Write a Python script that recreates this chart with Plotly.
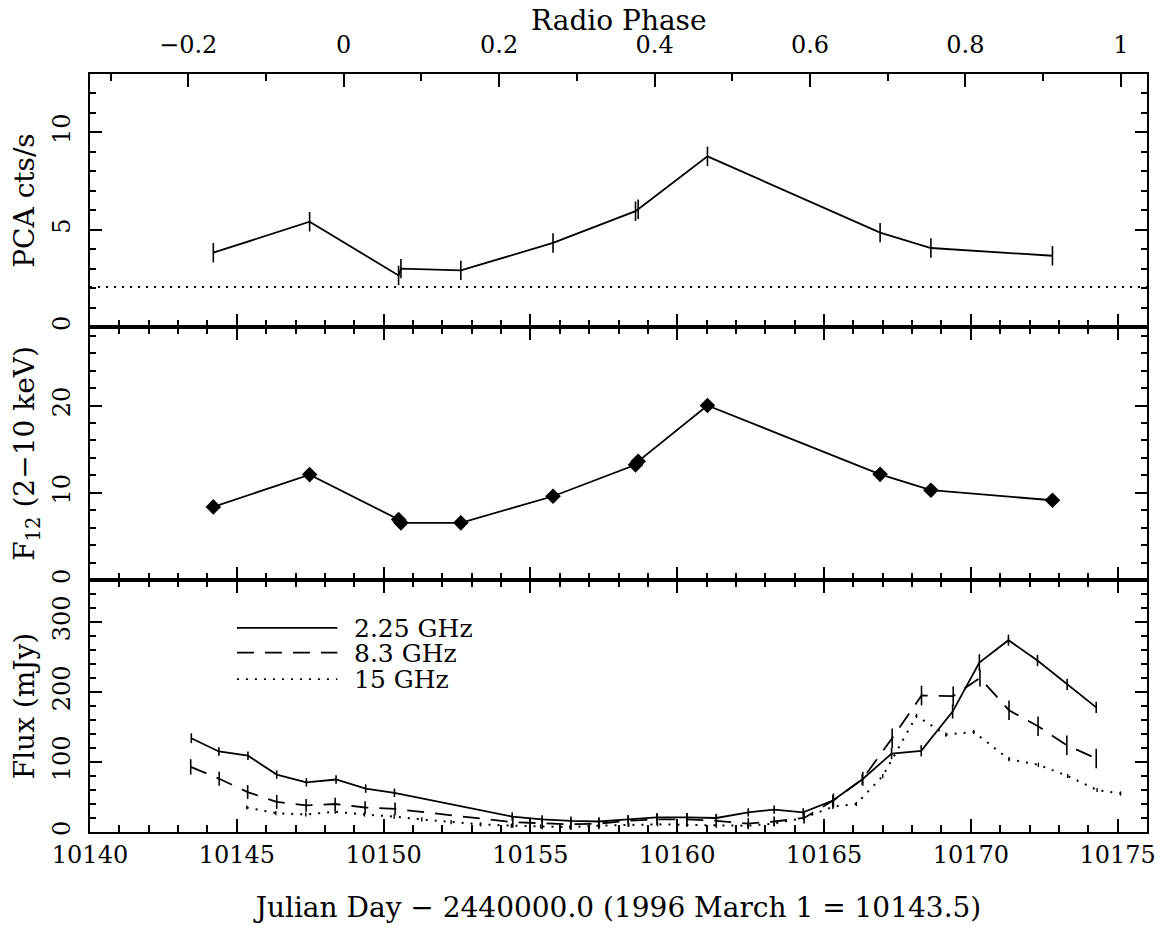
import plotly.graph_objects as go

# ---------------- data ----------------
# X-ray (PCA) observations
days_xray = [10144.20, 10147.48, 10150.51, 10150.59, 10152.63, 10155.77,
             10158.58, 10158.67, 10161.03, 10166.91, 10168.64, 10172.78]
pca_rate = [3.82, 5.41, 2.65, 3.00, 2.91, 4.32, 5.95, 6.05, 8.77, 4.85, 4.06, 3.66]
pca_err = [0.5, 0.5, 0.5, 0.5, 0.5, 0.5, 0.5, 0.5, 0.5, 0.5, 0.5, 0.5]
pca_background = 2.05
f12_flux = [8.38, 12.08, 6.93, 6.55, 6.55, 9.6, 13.2, 13.6, 20.0, 12.11, 10.29, 9.14]

# Radio 2.25 GHz
days_225 = [10143.45, 10144.39, 10145.38, 10146.36, 10147.37, 10148.38, 10149.39, 10150.37,
            10154.38, 10155.40, 10156.38, 10157.33, 10158.33, 10159.31, 10160.33, 10161.33,
            10162.42, 10163.30, 10164.29, 10165.30, 10166.30, 10167.30, 10168.31, 10169.38,
            10170.29, 10171.28, 10172.27, 10173.28, 10174.27]
flux_225 = [134, 115, 109, 82, 71, 75, 62, 56, 22, 18, 16, 15, 18, 21, 21, 20, 28, 32, 28,
            45, 75, 112, 116, 172, 242, 274, 245, 211, 178]
err_225 = [7, 6, 6, 6, 6, 6, 6, 6, 6, 6, 6, 6, 6, 6, 6, 6, 6, 6, 6, 8, 8, 8, 8, 10, 12, 8, 8, 8, 8]

# Radio 8.3 GHz
days_83 = [10143.43, 10144.40, 10145.37, 10146.36, 10147.36, 10148.35, 10149.37, 10150.39,
           10154.40, 10155.40, 10156.38, 10157.33, 10158.33, 10159.31, 10160.33, 10161.33,
           10162.42, 10163.30, 10164.32, 10165.32, 10166.32, 10167.32, 10168.32, 10169.40,
           10170.31, 10171.30, 10172.29, 10173.27, 10174.27]
flux_83 = [93, 76, 57, 43, 38, 40, 35, 33, 14, 12, 11, 12, 16, 18, 18, 16, 12, 15, 20,
           45, 76, 134, 195, 194, 220, 174, 151, 124, 105]
err_83 = [11, 10, 10, 10, 9, 9, 9, 9, 8, 8, 8, 8, 8, 8, 9, 9, 8, 7, 8, 10, 10, 14, 14, 14,
          12, 14, 14, 14, 14]

# Radio 15 GHz
days_15 = [10145.34, 10146.33, 10147.35, 10148.35, 10149.35, 10150.36, 10151.30, 10152.30,
           10153.30, 10154.35, 10155.35, 10156.35, 10157.35, 10158.35, 10159.33, 10160.33,
           10161.33, 10162.40, 10163.30, 10164.30, 10165.30, 10166.10, 10167.00, 10168.15,
           10169.15, 10170.10, 10171.30, 10172.30, 10173.30, 10174.30, 10175.10]
flux_15 = [35, 27, 25, 29, 25, 22, 18, 14, 11, 9, 8, 7, 9, 10, 11, 10, 9, 9, 12, 20, 36,
           40, 80, 166, 139, 143, 104, 96, 80, 60, 55]
err_15 = [3, 3, 3, 3, 3, 3, 3, 3, 3, 3, 3, 3, 3, 3, 3, 3, 3, 3, 3, 3, 3,
          3, 3, 3, 3, 3, 3, 3, 3, 3, 3]

legend_labels = ["2.25 GHz", "8.3 GHz", "15 GHz"]
phase_title = "Radio Phase"

# radio phase ephemeris
phase_t0 = 10148.64
period = 26.47
day_range = [10140, 10176]
phase_range = [(d - phase_t0) / period for d in day_range]

# ---------------- style ----------------
FONT = "DejaVu Serif"
FS = 24      # tick labels
FT = 28      # axis titles
FL = 25      # legend text
BLACK = "black"
DASH83 = "17px,11px"
DOT15 = "2px,7px"
LW = 1.8     # frame line width

fig = go.Figure()

# top panel: PCA count rate
fig.add_trace(go.Scatter(
    x=days_xray, y=pca_rate, xaxis="x3", yaxis="y3", mode="lines",
    line=dict(color=BLACK, width=1.8),
    error_y=dict(type="data", array=pca_err, color=BLACK, thickness=1.6, width=0),
    showlegend=False, hoverinfo="skip"))
# phantom trace to activate the phase axis
fig.add_trace(go.Scatter(
    x=[(d - phase_t0) / period for d in days_xray], y=pca_rate, xaxis="x4", yaxis="y3",
    mode="markers", marker=dict(opacity=0), showlegend=False, hoverinfo="skip"))

# middle panel: F12
fig.add_trace(go.Scatter(
    x=days_xray, y=f12_flux, xaxis="x2", yaxis="y2", mode="lines+markers",
    line=dict(color=BLACK, width=1.8),
    marker=dict(symbol="diamond", size=12, color=BLACK),
    showlegend=False, hoverinfo="skip"))

# bottom panel: radio
fig.add_trace(go.Scatter(
    x=days_225, y=flux_225, xaxis="x", yaxis="y", mode="lines",
    line=dict(color=BLACK, width=1.8),
    error_y=dict(type="data", array=err_225, color=BLACK, thickness=1.6, width=0),
    showlegend=False, hoverinfo="skip"))
fig.add_trace(go.Scatter(
    x=days_83, y=flux_83, xaxis="x", yaxis="y", mode="lines",
    line=dict(color=BLACK, width=1.8, dash=DASH83),
    error_y=dict(type="data", array=err_83, color=BLACK, thickness=1.6, width=0),
    showlegend=False, hoverinfo="skip"))
fig.add_trace(go.Scatter(
    x=days_15, y=flux_15, xaxis="x", yaxis="y", mode="lines",
    line=dict(color=BLACK, width=2, dash=DOT15),
    error_y=dict(type="data", array=err_15, color=BLACK, thickness=1.4, width=0),
    showlegend=False, hoverinfo="skip"))

# background level (dotted)
fig.add_shape(type="line", xref="x3 domain", yref="y3", x0=0, x1=1,
              y0=pca_background, y1=pca_background,
              line=dict(color=BLACK, width=2, dash="2px,6px"))

# legend drawn by hand (long sample lines)
leg_dashes = ["solid", DASH83, DOT15]
leg_y = [0.81, 0.712, 0.607]
for lab, dsh, yy in zip(legend_labels, leg_dashes, leg_y):
    fig.add_shape(type="line", xref="x domain", yref="y domain",
                  x0=0.139, x1=0.234, y0=yy, y1=yy,
                  line=dict(color=BLACK, width=1.8, dash=dsh))
    fig.add_annotation(xref="x domain", yref="y domain", x=0.249, y=yy,
                       text=lab, showarrow=False, xanchor="left", yanchor="middle",
                       height=24, borderpad=0,
                       font=dict(family=FONT, size=FL, color=BLACK))

# top-axis title (placed above the phase tick labels)
fig.add_annotation(xref="x domain", yref="paper", x=0.5, y=1, yshift=36,
                   text=phase_title, showarrow=False, xanchor="center", yanchor="bottom",
                   borderpad=0, font=dict(family=FONT, size=FT, color=BLACK))

tick_common = dict(ticks="inside", tickcolor=BLACK, tickwidth=1.5, showline=True,
                   linecolor=BLACK, linewidth=LW, showgrid=False, zeroline=False,
                   automargin=False,
                   tickfont=dict(family=FONT, size=FS, color=BLACK))

xcommon = dict(range=day_range, tick0=10140, dtick=5, ticklen=13, tickformat="d",
               minor=dict(dtick=1, ticklen=7, ticks="inside", tickcolor=BLACK, tickwidth=1.5),
               **tick_common)

D1 = 252 / 758
D2 = 505 / 758

fig.update_layout(
    width=1157, height=920,
    margin=dict(l=82, r=18, t=66, b=96, autoexpand=False),
    paper_bgcolor="white", plot_bgcolor="white",
    font=dict(family=FONT, size=FS, color=BLACK),
    xaxis=dict(anchor="y", domain=[0, 1], mirror="ticks",
               title=dict(text="Julian Day − 2440000.0 (1996 March 1 = 10143.5)",
                          font=dict(family=FONT, size=FT), standoff=30),
               **xcommon),
    xaxis2=dict(anchor="y2", domain=[0, 1], mirror="ticks", showticklabels=False, **xcommon),
    xaxis3=dict(anchor="y3", domain=[0, 1], mirror=False, showticklabels=False, **xcommon),
    xaxis4=dict(anchor="y3", overlaying="x3", side="top", range=phase_range,
                tick0=0, dtick=0.2, ticklen=13, ticklabelstandoff=10,
                minor=dict(dtick=0.1, ticklen=7, ticks="inside", tickcolor=BLACK, tickwidth=1.5),
                **tick_common),
    yaxis=dict(anchor="x", domain=[0, D1], range=[0, 360], tick0=0, dtick=100, ticklen=12,
               minor=dict(dtick=20, ticklen=6, ticks="inside", tickcolor=BLACK, tickwidth=1.5),
               mirror="ticks", tickangle=-90, ticklabelstandoff=9,
               title=dict(text="Flux (mJy)", font=dict(family=FONT, size=FT), standoff=6),
               **tick_common),
    yaxis2=dict(anchor="x2", domain=[D1, D2], range=[0, 29], tick0=0, dtick=10, ticklen=12,
                minor=dict(dtick=2, ticklen=6, ticks="inside", tickcolor=BLACK, tickwidth=1.5),
                mirror="ticks", tickangle=-90, ticklabelstandoff=9,
                title=dict(text="F<sub>12</sub> (2−10 keV)", font=dict(family=FONT, size=FT), standoff=6),
                **tick_common),
    yaxis3=dict(anchor="x3", domain=[D2, 1], range=[0, 13], tick0=0, dtick=5, ticklen=12,
                minor=dict(dtick=1, ticklen=6, ticks="inside", tickcolor=BLACK, tickwidth=1.5),
                mirror="ticks", tickangle=-90, ticklabelstandoff=9,
                title=dict(text="PCA cts/s", font=dict(family=FONT, size=FT), standoff=6),
                **tick_common),
)

fig.write_html("out.html")
